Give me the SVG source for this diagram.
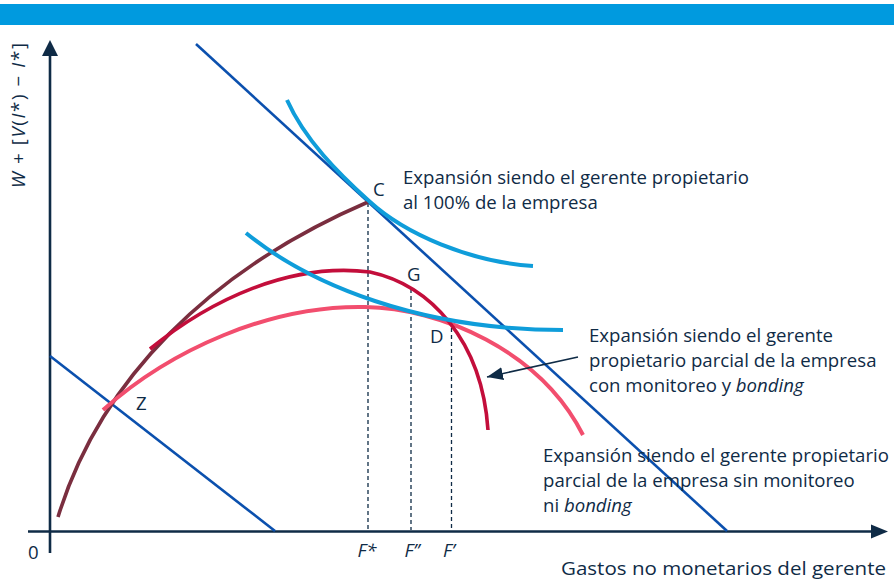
<svg xmlns="http://www.w3.org/2000/svg" width="894" height="582" viewBox="0 0 894 582">
<defs>
<marker id="ah2" viewBox="0 0 16 13" refX="16" refY="6.5" markerWidth="16" markerHeight="13" markerUnits="userSpaceOnUse" orient="auto"><path d="M0,0 L16,6.5 L0,13 z" fill="#0F2B46"/></marker>
</defs>
<style>
text{font-family:"Open Sans","Noto Sans",sans-serif;fill:#0F2B46;font-size:18.6px}
.it{font-style:italic}
.axis{stroke:#0F2B46;stroke-width:2.6;fill:none}
.bl{stroke:#0B50AE;stroke-width:2.6;fill:none}
.lb{stroke:#0F9DDA;stroke-width:4;fill:none;stroke-linecap:butt}
.br{stroke:#7A2E3F;stroke-width:3.6;fill:none}
.cr{stroke:#C30E3B;stroke-width:3.6;fill:none}
.pk{stroke:#F24E6E;stroke-width:4;fill:none}
.dash{stroke:#0F2B46;stroke-width:1.3;stroke-dasharray:4 3;fill:none}
</style>
<rect x="0" y="0" width="894" height="582" fill="#ffffff"/>
<rect id="topbar" x="0" y="4" width="894" height="21" fill="#009ADF"/>

<g id="axes">
<line class="axis" x1="50" y1="553" x2="50" y2="55"/>
<path d="M50,40 L42,56 L58,56 z" fill="#0F2B46"/>
<line class="axis" x1="28" y1="531.5" x2="872" y2="531.5"/>
<path d="M888,531.5 L871,524.5 L871,538.5 z" fill="#0F2B46"/>
<text x="28" y="559">0</text>
<text x="561" y="575" font-size="22" textLength="325" lengthAdjust="spacingAndGlyphs">Gastos no monetarios del gerente</text>
<text transform="translate(25,188) rotate(-90)" font-size="20" textLength="145" lengthAdjust="spacing"><tspan class="it">W</tspan> + [<tspan class="it">V</tspan>(<tspan class="it">I</tspan>*) − <tspan class="it">I</tspan>*]</text>
</g>

<g id="guides">
<line class="dash" x1="368" y1="203" x2="368" y2="530"/>
<line class="dash" x1="411" y1="289" x2="411" y2="530"/>
<line class="dash" x1="451.5" y1="321" x2="451.5" y2="530"/>
<text class="it" x="367" y="557" text-anchor="middle">F*</text>
<text class="it" x="412" y="557" text-anchor="middle">F’’</text>
<text class="it" x="449" y="557" text-anchor="middle">F’</text>
</g>

<g id="budget-line-large"><line class="bl" x1="196" y1="44" x2="727" y2="531"/></g>
<g id="budget-line-small"><line class="bl" x1="50" y1="356" x2="275" y2="531"/></g>

<g id="curve-brown"><path class="br" d="M58,517 C100,380 210,270 368,202"/></g>
<g id="curve-pink"><path class="pk" d="M103,410 C170,350 270,305 365,307 C440,308 540,350 583,435"/></g>
<g id="curve-crimson"><path class="cr" d="M150,349 C210,300 290,262 370,272 C430,285 482,340 488,430"/></g>
<g id="indiff-1"><path class="lb" d="M287,100 C305,140 338,173 369,201 C405,234 470,262 533,266"/></g>
<g id="indiff-2"><path class="lb" d="M246,233 C310,285 420,330 563,330"/></g>

<g id="points">
<text x="373" y="196">C</text>
<text x="407" y="281">G</text>
<text x="430" y="343">D</text>
<text x="136" y="410">Z</text>
</g>

<g id="note-100">
<text x="403" y="184">Expansión siendo el gerente propietario</text>
<text x="403" y="209">al 100% de la empresa</text>
</g>
<g id="note-bonding">
<text x="589" y="342">Expansión siendo el gerente</text>
<text x="589" y="367">propietario parcial de la empresa</text>
<text x="589" y="392">con monitoreo y <tspan class="it">bonding</tspan></text>
</g>
<g id="note-nobonding">
<text x="543" y="462">Expansión siendo el gerente propietario</text>
<text x="543" y="487">parcial de la empresa sin monitoreo</text>
<text x="543" y="512">ni <tspan class="it">bonding</tspan></text>
</g>

<g id="connectors">
<line x1="578" y1="357" x2="487" y2="377" stroke="#0F2B46" stroke-width="1.6" marker-end="url(#ah2)"/>
</g>
</svg>
